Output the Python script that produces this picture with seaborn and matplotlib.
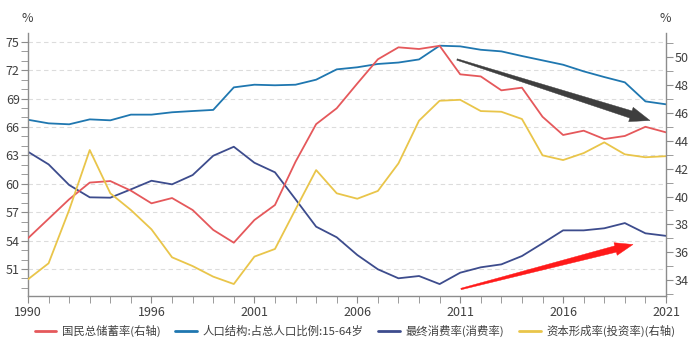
import numpy as np
import pandas as pd
import matplotlib
matplotlib.use("Agg")
import matplotlib.pyplot as plt
from matplotlib.patches import Polygon
from matplotlib.ticker import MultipleLocator, FixedLocator
import seaborn as sns

sns.set_style("white")
plt.rcParams['font.family'] = ['Noto Sans CJK SC', 'DejaVu Sans']

years = list(range(1990, 2022))
# left axis
population_15_64 = [66.76, 66.38, 66.28, 66.80, 66.70, 67.30, 67.30, 67.55, 67.68, 67.80,
                    70.18, 70.46, 70.40, 70.46, 70.99, 72.08, 72.30, 72.65, 72.80, 73.13,
                    74.58, 74.51, 74.15, 73.98, 73.49, 73.03, 72.57, 71.87, 71.27, 70.71,
                    68.70, 68.39]
consumption_rate = [63.38, 62.05, 59.87, 58.57, 58.53, 59.41, 60.32, 59.94, 60.92, 62.96,
                    63.91, 62.22, 61.21, 58.36, 55.47, 54.35, 52.48, 50.97, 50.02, 50.26,
                    49.41, 50.61, 51.18, 51.49, 52.37, 53.71, 55.08, 55.08, 55.30, 55.85,
                    54.77, 54.50]
# right axis
savings_rate = [37.00, 38.40, 39.80, 41.00, 41.11, 40.42, 39.51, 39.89, 39.03, 37.60,
                36.68, 38.31, 39.39, 42.50, 45.20, 46.34, 48.12, 49.86, 50.72, 50.60,
                50.83, 48.78, 48.63, 47.63, 47.82, 45.73, 44.42, 44.73, 44.13, 44.35,
                45.01, 44.61]
investment_rate = [34.05, 35.20, 39.03, 43.34, 40.23, 39.03, 37.64, 35.63, 35.00, 34.24,
                   33.71, 35.68, 36.23, 39.08, 41.90, 40.23, 39.84, 40.40, 42.38, 45.45,
                   46.88, 46.95, 46.14, 46.09, 45.57, 42.96, 42.62, 43.12, 43.89, 43.03,
                   42.82, 42.90]

labels = ['国民总储蓄率(右轴)', '人口结构:占总人口比例:15-64岁',
          '最终消费率(消费率)', '资本形成率(投资率)(右轴)']
colors = {'red': '#E5585B', 'blue': '#1F77B0', 'navy': '#3D4C8D', 'yellow': '#E9C54A'}
x_major = [1990, 1996, 2001, 2006, 2011, 2016, 2021]
left_ticks = [51, 54, 57, 60, 63, 66, 69, 72, 75]
right_ticks = [34, 36, 38, 40, 42, 44, 46, 48, 50]

W, H = 700, 340
fig = plt.figure(figsize=(7, 3.4), dpi=100)
ax = fig.add_axes([28 / W, 1 - 296 / H, (666 - 28) / W, (296 - 33) / H])
ax2 = ax.twinx()

df = pd.DataFrame({'year': years, 'pop': population_15_64, 'cons': consumption_rate,
                   'sav': savings_rate, 'inv': investment_rate})

lw = 1.3
sns.lineplot(data=df, x='year', y='pop', ax=ax, color=colors['blue'], lw=lw)
sns.lineplot(data=df, x='year', y='cons', ax=ax, color=colors['navy'], lw=lw)
sns.lineplot(data=df, x='year', y='sav', ax=ax2, color=colors['red'], lw=lw)
sns.lineplot(data=df, x='year', y='inv', ax=ax2, color=colors['yellow'], lw=lw)

ax.set_xlim(1990, 2021)
ax.set_ylim(48.15, 75.92)
ax2.set_ylim(32.85, 51.75)
for a in (ax, ax2):
    a.set_xlabel('')
    a.set_ylabel('')

axis_col = '#8C8C8C'
txt_col = '#404040'
ax.xaxis.set_major_locator(FixedLocator(x_major))
ax.xaxis.set_minor_locator(MultipleLocator(1))
ax.set_xticklabels([str(y) for y in x_major])
ax.yaxis.set_major_locator(FixedLocator(left_ticks))
ax.yaxis.set_minor_locator(MultipleLocator(1))
ax2.yaxis.set_major_locator(FixedLocator(right_ticks))
ax2.yaxis.set_minor_locator(MultipleLocator(1))

ax.grid(axis='y', which='major', color='#DCDCDC', linestyle=(0, (4, 3)), lw=0.8)
ax.set_axisbelow(True)

for a in (ax, ax2):
    for s in a.spines.values():
        s.set_color(axis_col)
        s.set_linewidth(1.0)
    a.spines['top'].set_visible(False)
ax.spines['right'].set_visible(False)
ax2.spines['left'].set_visible(False)
ax2.spines['bottom'].set_visible(False)

ax.tick_params(axis='x', which='both', direction='out', length=5, color=axis_col,
               labelsize=9, labelcolor=txt_col, pad=2, bottom=True)
ax.tick_params(axis='y', which='both', direction='out', length=5, color=axis_col,
               labelsize=9, labelcolor=txt_col, pad=1, left=True)
ax2.tick_params(axis='y', which='both', direction='out', length=5, color=axis_col,
                labelsize=9, labelcolor=txt_col, pad=1, right=True)

fig.text(27 / W, 1 - 19 / H, '%', ha='center', va='center', fontsize=9, color=txt_col)
fig.text(665 / W, 1 - 19 / H, '%', ha='center', va='center', fontsize=9, color=txt_col)

# legend
handles = [plt.Line2D([], [], color=colors['red'], lw=2),
           plt.Line2D([], [], color=colors['blue'], lw=2),
           plt.Line2D([], [], color=colors['navy'], lw=2),
           plt.Line2D([], [], color=colors['yellow'], lw=2)]
fig.legend(handles, labels, loc='center', bbox_to_anchor=(355 / W, 1 - 331 / H), ncol=4,
           frameon=False, fontsize=8.2, handlelength=1.9, handletextpad=0.5,
           columnspacing=1.3, labelcolor=txt_col)


def arrow_poly(S, T, w0, w1, hw, hl, color):
    S = np.array(S, float)
    T = np.array(T, float)
    d = T - S
    u = d / np.linalg.norm(d)
    n = np.array([-u[1], u[0]])
    B = T - u * hl
    pts = [S + n * w0 / 2, B + n * w1 / 2, B + n * hw / 2, T,
           B - n * hw / 2, B - n * w1 / 2, S - n * w0 / 2]
    pts = [(p[0] / W, 1 - p[1] / H) for p in pts]
    fig.patches.append(Polygon(pts, closed=True, transform=fig.transFigure,
                               facecolor=color, edgecolor=color, lw=0.3, zorder=10))


arrow_poly((457, 59.5), (650, 120.5), 1.5, 7.5, 15, 20, '#3E3E3E')
arrow_poly((461, 289), (633, 244.5), 1.5, 6.5, 13, 18, '#FF1A1A')

fig.savefig('out.png', dpi=100)
